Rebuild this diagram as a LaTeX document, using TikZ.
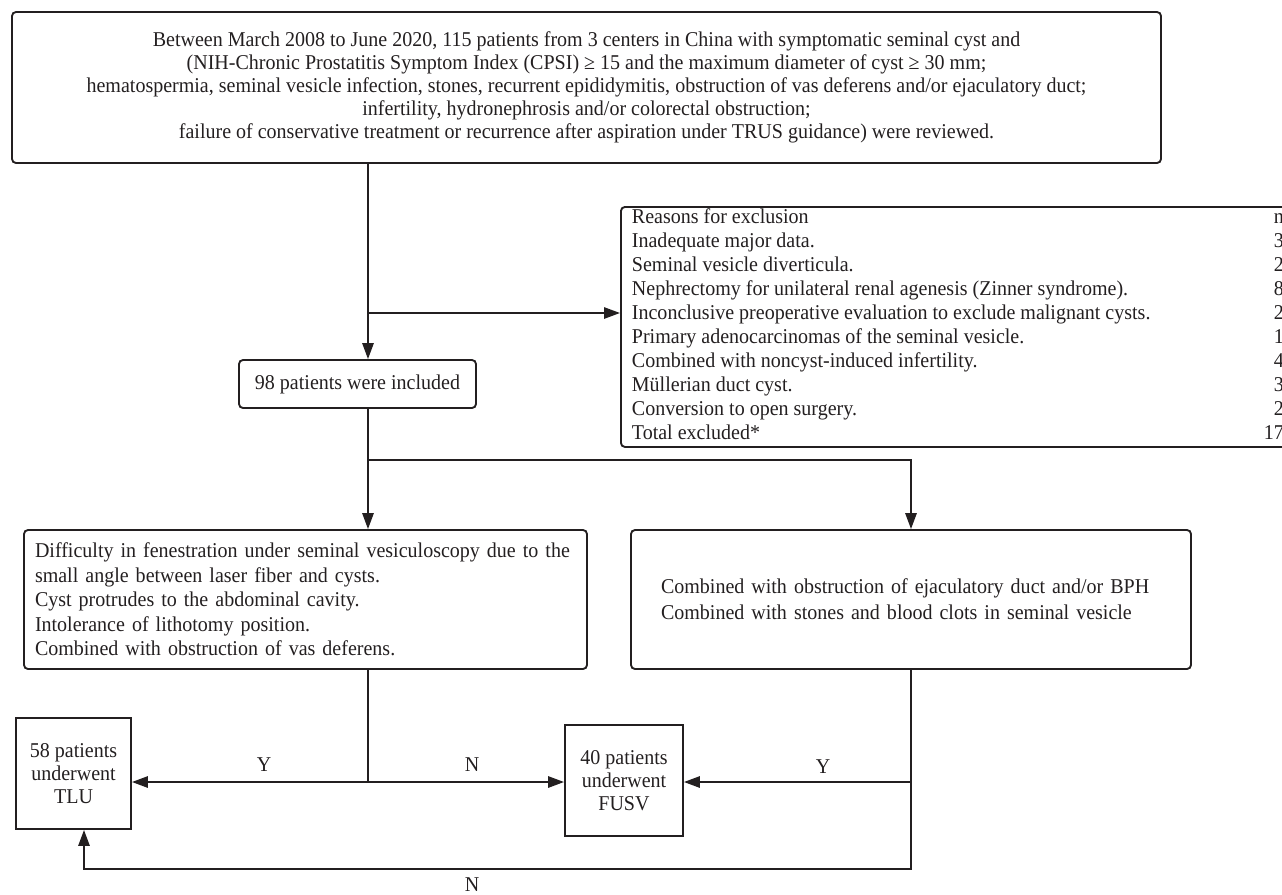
\documentclass[tikz,border=0pt]{standalone}
\usepackage{fontspec}
\setmainfont[FakeStretch=0.95]{Liberation Serif}
\usetikzlibrary{arrows.meta,calc}
\definecolor{ink}{HTML}{231F20}
\begin{document}
\begin{tikzpicture}[x=0.75pt,y=-0.75pt,
  every node/.style={font=\fontsize{15.8}{17.25}\selectfont, text=ink},
  box/.style={draw=ink, rounded corners=3pt, line width=1.4pt, inner sep=0pt},
  sqbox/.style={draw=ink, line width=1.4pt, inner sep=0pt, align=center},
  conn/.style={draw=ink, line width=1.4pt},
  arr/.style={conn, -{Triangle[length=12pt,width=8.5pt]}},
  lbl/.style={inner sep=0pt}]
\useasboundingbox (0,0) rectangle (1282,894);

\node[box, minimum width=861.75pt, minimum height=113.25pt, align=center] (top) at (586.5,87.5)
 {Between March 2008 to June 2020, 115 patients from 3 centers in China with symptomatic seminal cyst and\\
  (NIH-Chronic Prostatitis Symptom Index (CPSI) ≥ 15 and the maximum diameter of cyst ≥ 30 mm;\\
  hematospermia, seminal vesicle infection, stones, recurrent epididymitis, obstruction of vas deferens and/or ejaculatory duct;\\
  infertility, hydronephrosis and/or colorectal obstruction;\\
  failure of conservative treatment or recurrence after aspiration under TRUS guidance) were reviewed.};

\node[box, anchor=north west, inner xsep=8.25pt, inner ysep=0pt] (excl) at (620,206)
 {\fontsize{15.8}{18}\selectfont
  \begin{tabular*}{489pt}{@{}l@{\extracolsep{\fill}}r@{}}
  Reasons for exclusion & n\\
  Inadequate major data. & 3\\
  Seminal vesicle diverticula. & 2\\
  Nephrectomy for unilateral renal agenesis (Zinner syndrome). & 8\\
  Inconclusive preoperative evaluation to exclude malignant cysts. & 2\\
  Primary adenocarcinomas of the seminal vesicle. & 1\\
  Combined with noncyst-induced infertility. & 4\\
  Müllerian duct cyst. & 3\\
  Conversion to open surgery. & 2\\
  Total excluded* & 17
  \end{tabular*}};

\node[box, minimum width=177.75pt, minimum height=36pt] (inc) at (357.5,384) {98 patients were included};

\node[box, minimum width=422.25pt, minimum height=104.25pt, text width=405.75pt, inner xsep=8.25pt,
      align=left, font=\fontsize{15.8}{18.4}\selectfont] (diff) at (305.5,599.5)
 {Difficulty in fenestration under seminal vesiculoscopy due to the\\
  small angle between laser fiber and cysts.\\
  Cyst protrudes to the abdominal cavity.\\
  Intolerance of lithotomy position.\\
  Combined with obstruction of vas deferens.};

\node[box, minimum width=420pt, minimum height=104.25pt, text width=375pt, inner xsep=22.5pt,
      align=left, font=\fontsize{15.8}{19.5}\selectfont] (comb) at (911,599.5)
 {Combined with obstruction of ejaculatory duct and/or BPH\\
  Combined with stones and blood clots in seminal vesicle};

\node[sqbox, minimum width=86.25pt, minimum height=83.25pt] (tlu) at (73.5,773.5) {58 patients\\underwent\\TLU};
\node[sqbox, minimum width=88.5pt, minimum height=83.25pt] (fusv) at (624,780.5) {40 patients\\underwent\\FUSV};

\coordinate (tx) at (368,0);
\coordinate (j1) at (368,313);
\coordinate (j2) at (368,460);
\coordinate (j3) at (368,782);
\coordinate (j4) at (911,782);
\coordinate (j5) at (911,869);
\coordinate (j6) at (84,869);

\draw[arr] (top.south -| tx) -- (inc.north -| tx);
\draw[arr] (j1) -- (j1 -| excl.west);
\draw[arr] (inc.south -| tx) -- (diff.north -| tx);
\draw[arr] (j2) -| (comb.north);
\draw[conn] (diff.south -| tx) -- (j3);
\draw[arr] (j3) -- (j3 -| tlu.east);
\draw[arr] (j3) -- (j3 -| fusv.west);
\draw[arr] (j4) -- (j4 -| fusv.east);
\draw[arr] (comb.south) -- (j5) -- (j6) -- (tlu.south -| j6);

\node[lbl] (ly1) at (264,765) {Y};
\node[lbl] (ln1) at (472,765) {N};
\node[lbl] (ly2) at (823,767) {Y};
\node[lbl] (ln2) at (472,885) {N};
\end{tikzpicture}
\end{document}
